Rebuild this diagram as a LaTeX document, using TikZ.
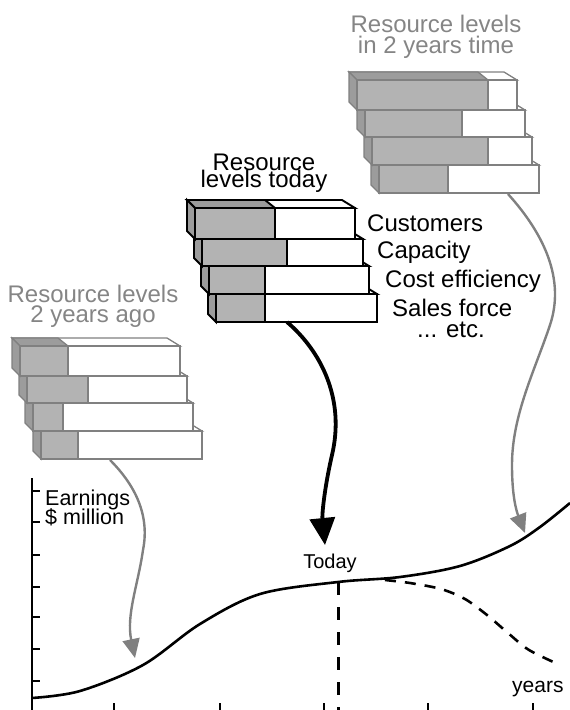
\documentclass[tikz,border=0pt]{standalone}
\usepackage{fontspec}
\setmainfont{Liberation Sans}
\usetikzlibrary{arrows.meta}
\definecolor{bargray}{HTML}{B3B3B3}
\definecolor{sidegray}{HTML}{9C9C9C}
\definecolor{linegray}{HTML}{808080}
\definecolor{textgray}{HTML}{858585}
% one bar of a resource stack: left, split, right, top, bottom
\newcommand{\resbar}[5]{%
  \filldraw[fill=white] (#1,#4) -- (#3,#4) -- (#3-13,#4-8) -- (#1-8,#4-8) -- cycle;
  \filldraw[fill=sidegray] (#1,#4) -- (#2,#4) -- (#2-10,#4-8) -- (#1-8,#4-8) -- cycle;
  \filldraw[fill=sidegray] (#1,#4) -- (#1,#5) -- (#1-8,#5-8) -- (#1-8,#4-8) -- cycle;
  \filldraw[fill=bargray] (#1,#4) rectangle (#2,#5);
  \filldraw[fill=white] (#2,#4) rectangle (#3,#5);
}
\begin{document}
\begin{tikzpicture}[x=1pt,y=-1pt,
    restext/.style={font=\fontsize{24}{28}\selectfont,inner sep=0pt},
    twoline/.style={font={\fontsize{24}{#1}\selectfont\lineskiplimit=-20pt},
      inner sep=0pt,align=center,anchor=base},
    greytext/.style={text=textgray},
    itemtext/.style={restext,anchor=base west},
    smalltext/.style={font=\fontsize{#1}{24}\selectfont,inner sep=0pt},
    greyarrow/.style={draw=linegray,line width=2.4pt,-{Triangle[length=19pt,width=17pt]}},
    curve/.style={line width=2.6pt}]
  \useasboundingbox (0,0) rectangle (570,710);
  \clip (0,0) rectangle (570,710);
  % stacks, lowest bar first
  \begin{scope}[color=linegray,line width=1.3pt]
    \foreach \l/\s/\r/\t/\b in {379/448/539/165/193,372/488/532/137/165,
        365/462/525/110/137,357/488/517/80/110}
      \resbar{\l}{\s}{\r}{\t}{\b};
    \foreach \l/\s/\r/\t/\b in {41/78/202/431/459,33/63/193/403/431,
        27/88/187/376/403,20/68/180/346/376}
      \resbar{\l}{\s}{\r}{\t}{\b};
  \end{scope}
  \begin{scope}[color=black,line width=1.9pt]
    \foreach \l/\s/\r/\t/\b in {216/265/377/294/322,209/265/369/266/294,
        202/287/363/239/266,195/275/355/208/239}
      \resbar{\l}{\s}{\r}{\t}{\b};
  \end{scope}
  % labels (anchored at the baseline of their last line)
  \node[twoline=21,greytext] (future) at (436,53) {Resource levels\\in 2 years time};
  \node[twoline=20,greytext] (past) at (93,322) {Resource levels\\2 years ago};
  \node[twoline=17] (todaylbl) at (264,187) {Resource\\levels today};
  \node[itemtext] (customers) at (367,231) {Customers};
  \node[itemtext] (capacity) at (377,258) {Capacity};
  \node[itemtext] (cost) at (385,287) {Cost efficiency};
  \node[itemtext] (sales) at (392,316) {Sales force};
  \node[itemtext] (etc) at (417,337) {... etc.};
  % arrows from the stacks to the curve
  \coordinate (futureout) at (508,194);
  \coordinate (futurein) at (525,533);
  \coordinate (todayout) at (287,322);
  \coordinate (todayin) at (325,545);
  \coordinate (pastout) at (110,460);
  \coordinate (pastin) at (135,658);
  \draw[greyarrow] (futureout) .. controls (545,235) and (565,280) .. (550,325)
    .. controls (535,370) and (512,415) .. (512,465)
    .. controls (512,495) and (516,510) .. (futurein);
  \draw[greyarrow] (pastout) .. controls (135,485) and (150,515) .. (143,550)
    .. controls (138,585) and (126,615) .. (pastin);
  \draw[line width=3.8pt,-{Triangle[length=27pt,width=25pt]}] (todayout)
    .. controls (322,352) and (345,400) .. (332,455)
    .. controls (324,490) and (322,515) .. (todayin);
  % earnings graph
  \draw[line width=2.6pt] (32,478) -- (32,713);
  \foreach \y in {491,522,555,587,617,649,681}
    \draw[line width=1.3pt] (32,\y) -- (40,\y);
  \foreach \x in {114,220,324,428,533}
    \draw[line width=1.3pt] (\x,703) -- (\x,713);
  \node[font={\fontsize{21.5}{19}\selectfont\lineskiplimit=-20pt},inner sep=0pt,
    align=left,anchor=base west] (earnings) at (45,524) {Earnings\\\$ million};
  \coordinate (todaypt) at (338,582);
  \coordinate (todaybase) at (338,713);
  \draw[curve] plot[smooth,tension=0.55] coordinates {(32,698) (80,691) (143,665)
    (200,624) (260,594) (todaypt) (400,577) (460,566) (510,546) (540,527)
    (570,503)};
  \draw[curve,dash pattern=on 11pt off 9pt] plot[smooth] coordinates {(385,580)
    (410,583) (441,589) (465,599) (487,615) (508,633) (529,650) (560,665)};
  \draw[line width=3pt,dash pattern=on 13pt off 12pt] (todaypt) -- (todaybase);
  \node[smalltext=20,anchor=base] (today) at (330,568) {Today};
  \node[smalltext=21,anchor=base west] (years) at (512,692) {years};
\end{tikzpicture}
\end{document}
